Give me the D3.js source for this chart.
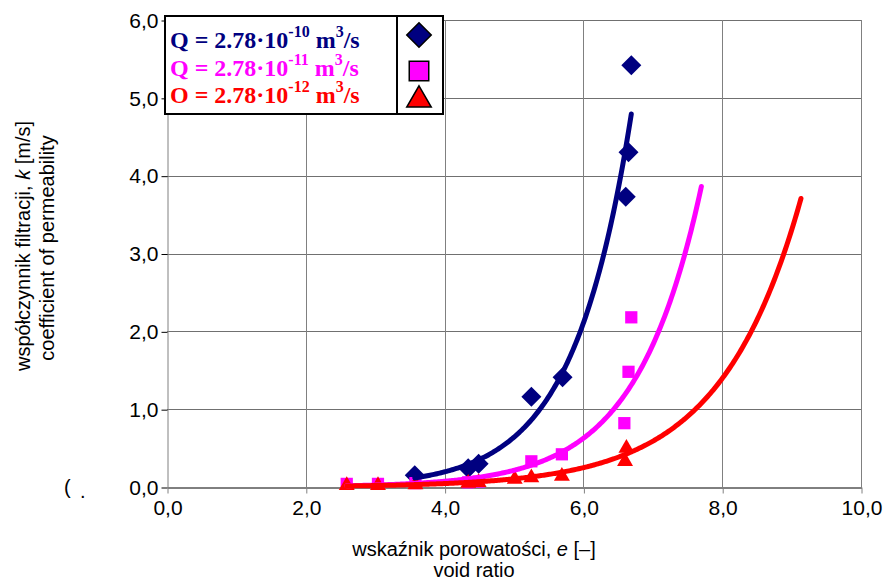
<!DOCTYPE html>
<html>
<head>
<meta charset="utf-8">
<script src="https://cdn.jsdelivr.net/npm/d3@7"></script>
<style>
  body { margin: 0; background: #fff; }
  svg { display: block; }
  .tick text { font-family: "Liberation Sans", Arial, sans-serif; font-size: 21px; fill: #000; }
  .title { font-family: "Liberation Sans", Arial, sans-serif; font-size: 20px; fill: #000; }
  .leg { font-family: "Liberation Serif", "Times New Roman", serif; font-weight: bold; font-size: 24px; }
</style>
</head>
<body>
<svg id="chart"></svg>
<script>
// series: void ratio e vs. coefficient of permeability k
const seriesPrefix = ["Q", "Q", "O"];
const seriesExp = ["-10", "-11", "-12"];
const seriesColors = ["#000080", "#ff00ff", "#ff0000"];
const seriesShapes = ["diamond", "square", "triangle"];

const blueE = [3.57, 4.34, 4.49, 5.25, 5.70, 6.61, 6.65, 6.69];
const blueK = [0.15, 0.24, 0.30, 1.16, 1.41, 3.73, 4.30, 5.42];
const pinkE = [2.59, 3.04, 3.58, 4.34, 4.49, 5.25, 5.69, 6.59, 6.65, 6.69];
const pinkK = [0.04, 0.04, 0.05, 0.06, 0.07, 0.33, 0.42, 0.82, 1.48, 2.18];
const redE = [2.59, 3.04, 3.58, 4.34, 4.49, 5.01, 5.25, 5.69, 6.60, 6.62];
const redK = [0.02, 0.02, 0.03, 0.05, 0.06, 0.10, 0.12, 0.14, 0.33, 0.50];

// exponential trendlines k = a*exp(b*e), as drawn in the picture
const trendA = [0.00166, 0.00102, 0.00141];
const trendB = [1.191, 1.07, 0.862];
const trendFrom = [3.57, 2.59, 2.59];
const trendTo = [6.69, 7.70, 9.135];

const xTicks = [0, 2, 4, 6, 8, 10];
const yTicks = [0, 1, 2, 3, 4, 5, 6];

const W = 888, H = 582;
const svg = d3.select("#chart").attr("width", W).attr("height", H);

const x = d3.scaleLinear().domain([0, 10]).range([167, 861]);
const y = d3.scaleLinear().domain([0, 6]).range([487, 20]);
const fmt = d => d3.format(".1f")(d).replace(".", ",");

// gridlines
svg.append("g").selectAll("line").data(yTicks.slice(1)).join("line")
    .attr("x1", x(0)).attr("x2", x(10))
    .attr("y1", d => Math.round(y(d)) + 0.5).attr("y2", d => Math.round(y(d)) + 0.5)
    .attr("stroke", "#707070");
svg.append("g").selectAll("line").data(xTicks.slice(1)).join("line")
    .attr("y1", y(0)).attr("y2", y(6))
    .attr("x1", d => Math.round(x(d)) + 0.5).attr("x2", d => Math.round(x(d)) + 0.5)
    .attr("stroke", "#808080");

// axes
const xAxis = svg.append("g").attr("transform", `translate(0.5,${Math.round(y(0)) + 0.5})`)
    .call(d3.axisBottom(x).tickValues(xTicks).tickFormat(fmt).tickSize(6).tickPadding(7).tickSizeOuter(0));
xAxis.select(".domain").attr("stroke", "#000");
xAxis.selectAll(".tick line").attr("stroke", "#808080");

const yAxis = svg.append("g").attr("transform", `translate(${Math.round(x(0)) + 0.5},0.5)`)
    .call(d3.axisLeft(y).tickValues(yTicks).tickFormat(fmt).tickSize(6).tickPadding(3).tickSizeOuter(0));
yAxis.select(".domain").attr("stroke", "#808080");
yAxis.selectAll(".tick line").attr("stroke", "#000");

// markers
const sym = {
    diamond: d3.symbol().type(d3.symbolSquare).size(200),
    square: d3.symbol().type(d3.symbolSquare).size(150),
    triangle: d3.symbol().type(d3.symbolTriangle).size(110)
};
const allData = [
    blueE.map((e, i) => [e, blueK[i]]),
    pinkE.map((e, i) => [e, pinkK[i]]),
    redE.map((e, i) => [e, redK[i]])
];

allData.forEach((pts, s) => {
    svg.append("g").selectAll("path").data(pts).join("path")
        .attr("d", sym[seriesShapes[s]])
        .attr("transform", d => `translate(${x(d[0])},${y(d[1])})` + (s === 0 ? " rotate(45)" : ""))
        .attr("fill", seriesColors[s]);
});

// trendlines
const line = d3.line().x(d => x(d[0])).y(d => y(d[1]));
trendA.forEach((a, s) => {
    const es = d3.range(trendFrom[s], trendTo[s], 0.02).concat([trendTo[s]]);
    svg.append("path")
        .datum(es.map(e => [e, a * Math.exp(trendB[s] * e)]))
        .attr("d", line)
        .attr("fill", "none")
        .attr("stroke", seriesColors[s])
        .attr("stroke-width", 5)
        .attr("stroke-linecap", "round");
});

// legend
const leg = svg.append("g");
leg.append("rect").attr("x", 165).attr("y", 16).attr("width", 278).attr("height", 98)
    .attr("fill", "#fff").attr("stroke", "#000").attr("stroke-width", 2);
leg.append("line").attr("x1", 397).attr("x2", 397).attr("y1", 16).attr("y2", 114)
    .attr("stroke", "#000").attr("stroke-width", 2);
const legY = [48, 76, 103];
const legMarkY = [35, 71, 97];
const legSym = {
    diamond: d3.symbol().type(d3.symbolSquare).size(300),
    square: d3.symbol().type(d3.symbolSquare).size(380),
    triangle: d3.symbol().type(d3.symbolTriangle).size(260)
};
seriesPrefix.forEach((p, s) => {
    const t = leg.append("text").attr("class", "leg").attr("x", 170).attr("y", legY[s])
        .attr("fill", seriesColors[s]);
    t.append("tspan").text(p + " = 2.78·10");
    t.append("tspan").attr("dy", -11).attr("font-size", 16).text(seriesExp[s]);
    t.append("tspan").attr("dy", 11).text(" m");
    t.append("tspan").attr("dy", -11).attr("font-size", 16).text("3");
    t.append("tspan").attr("dy", 11).text("/s");
    leg.append("path").attr("d", legSym[seriesShapes[s]])
        .attr("transform", `translate(419,${legMarkY[s] + (s === 2 ? 3 : 0)})` + (s === 0 ? " rotate(45)" : ""))
        .attr("fill", seriesColors[s]).attr("stroke", "#000").attr("stroke-width", 1.5);
});

// axis titles
const yt = svg.append("text").attr("class", "title").attr("text-anchor", "middle")
    .attr("transform", "translate(30,246) rotate(-90)");
yt.append("tspan").text("współczynnik filtracji, ");
yt.append("tspan").attr("font-style", "italic").text("k");
yt.append("tspan").text(" [m/s]");
svg.append("text").attr("class", "title").attr("text-anchor", "middle")
    .attr("transform", "translate(54,248) rotate(-90)").text("coefficient of permeability");

const xt = svg.append("text").attr("class", "title").attr("text-anchor", "middle")
    .attr("x", 474).attr("y", 556);
xt.append("tspan").text("wskaźnik porowatości, ");
xt.append("tspan").attr("font-style", "italic").text("e");
xt.append("tspan").text(" [–]");
svg.append("text").attr("class", "title").attr("text-anchor", "middle")
    .attr("x", 474).attr("y", 577).text("void ratio");

// stray glyph at lower left
svg.append("text").attr("class", "title").attr("x", 64).attr("y", 494).text("(");
svg.append("text").attr("class", "title").attr("x", 80).attr("y", 498)
    .attr("font-size", 8).attr("fill", "#888").text(".");
</script>
</body>
</html>
